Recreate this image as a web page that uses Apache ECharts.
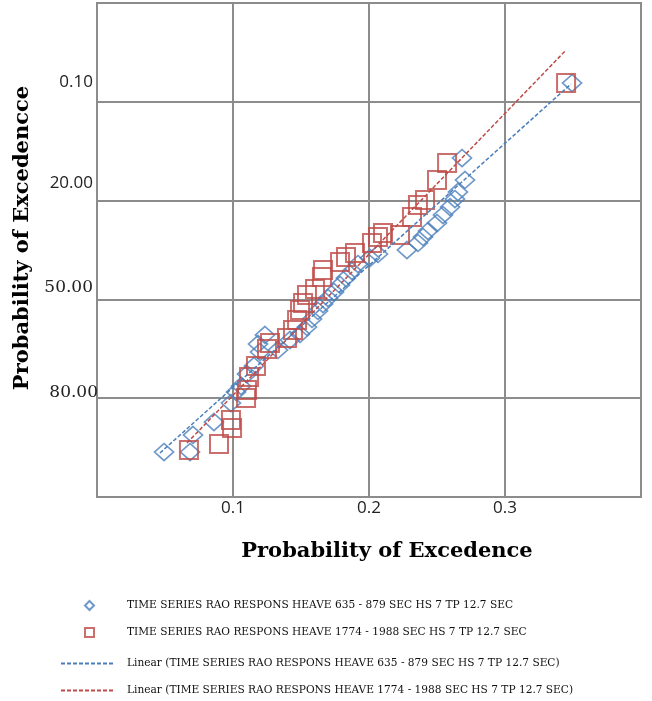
<!DOCTYPE html>
<html>
<head>
<meta charset="utf-8">
<script src="https://cdn.jsdelivr.net/npm/echarts@6/dist/echarts.min.js"></script>
<style>
  html, body { margin: 0; padding: 0; background: #fff; }
  #chart { width: 652px; height: 701px; }
</style>
</head>
<body>
<div id="chart"></div>
<script>
const xTickLabels = ['', '0.1', '0.2', '0.3', '']
const yTickLabels = ['', '0.10', '20.00', '50.00', '80.00', '']

const seriesNames = [
  'TIME SERIES RAO RESPONS HEAVE 635 - 879 SEC HS 7 TP 12.7 SEC',
  'TIME SERIES RAO RESPONS HEAVE 1774 - 1988 SEC HS 7 TP 12.7 SEC',
  'Linear (TIME SERIES RAO RESPONS HEAVE 635 - 879 SEC HS 7 TP 12.7 SEC)',
  'Linear (TIME SERIES RAO RESPONS HEAVE 1774 - 1988 SEC HS 7 TP 12.7 SEC)'
]

// heave 635 - 879 sec (blue diamonds)
const blueX = [0.0493, 0.0684, 0.0706, 0.0860, 0.0985, 0.1022, 0.1059, 0.1103, 0.1154, 0.1199,
  0.1184, 0.1235, 0.1331, 0.1419, 0.1493, 0.1544, 0.1581, 0.1625, 0.1662, 0.1699,
  0.1743, 0.1787, 0.1831, 0.1875, 0.1919, 0.2007, 0.2066, 0.2279, 0.2360, 0.2397,
  0.2434, 0.2500, 0.2544, 0.2596, 0.2632, 0.2654, 0.2706, 0.2684, 0.3493]
const blueY = [4.545, 4.545, 4.372, 4.241, 4.049, 3.937, 3.877, 3.755, 3.674, 3.532,
  3.451, 3.360, 3.512, 3.411, 3.350, 3.279, 3.198, 3.117, 3.047, 2.986,
  2.925, 2.854, 2.783, 2.713, 2.642, 2.581, 2.540, 2.500, 2.429, 2.368,
  2.308, 2.227, 2.146, 2.065, 1.984, 1.913, 1.791, 1.569, 0.810]

// heave 1774 - 1988 sec (red squares)
const redX = [0.0676, 0.0897, 0.0985, 0.0993, 0.1096, 0.1103, 0.1118, 0.1169, 0.1250, 0.1272,
  0.1397, 0.1441, 0.1471, 0.1493, 0.1515, 0.1544, 0.1603, 0.1654, 0.1662, 0.1787,
  0.1831, 0.1897, 0.2022, 0.2066, 0.2103, 0.2228, 0.2316, 0.2360, 0.2412, 0.2500,
  0.2574, 0.3449]
const redY = [4.524, 4.464, 4.221, 4.302, 3.998, 3.917, 3.785, 3.674, 3.502, 3.441,
  3.391, 3.310, 3.209, 3.107, 3.036, 2.955, 2.895, 2.773, 2.702, 2.621,
  2.571, 2.530, 2.429, 2.368, 2.328, 2.348, 2.166, 2.045, 1.994, 1.791,
  1.619, 0.810]

// linear trend line end points
const blueTrendX = [0.0463, 0.3485]
const blueTrendY = [4.555, 0.820]
const redTrendX = [0.0662, 0.3449]
const redTrendY = [4.453, 0.476]

const BLUE = '#4a7ebb'
const RED = '#be4b48'
const GRID = '#8c8c8c'

function zip(xs, ys) {
  return xs.map((x, i) => [x, ys[i]])
}

const legendText = {
  fontFamily: 'DejaVu Serif', fontSize: 10.6, color: '#111'
}

const chart = echarts.init(document.getElementById('chart'))

chart.setOption({
  animation: false,
  backgroundColor: '#fff',
  grid: {
    left: 97, top: 3, width: 544, height: 494,
    show: true, borderColor: GRID, borderWidth: 2
  },
  xAxis: {
    type: 'value',
    min: 0, max: 0.4, interval: 0.1,
    name: 'Probability of Excedence',
    nameLocation: 'middle',
    nameGap: 44,
    nameTextStyle: {
      fontFamily: 'DejaVu Serif', fontWeight: 'bold', fontSize: 21, color: '#000',
      padding: [0, 0, 0, 36]
    },
    axisLine: { show: true, lineStyle: { color: GRID, width: 2 } },
    axisTick: { show: false },
    axisLabel: {
      margin: 3,
      fontFamily: 'Open Sans', fontSize: 17, color: '#222',
      formatter: (v) => xTickLabels[Math.round(v * 10)]
    },
    splitLine: { show: true, lineStyle: { color: GRID, width: 2 } }
  },
  yAxis: {
    type: 'value',
    inverse: true,
    min: 0, max: 5, interval: 1,
    name: 'Probability of Excedencce',
    nameLocation: 'middle',
    nameGap: 58,
    nameTextStyle: {
      fontFamily: 'DejaVu Serif', fontWeight: 'bold', fontSize: 21, color: '#000',
      padding: [0, 0, 0, 24]
    },
    axisLine: { show: true, lineStyle: { color: GRID, width: 2 } },
    axisTick: { show: false },
    axisLabel: {
      margin: -1,
      formatter: (v) => {
        const i = Math.round(v)
        return yTickLabels[i] ? '{s' + i + '|' + yTickLabels[i] + '}' : ''
      },
      rich: {
        s1: { fontFamily: 'Open Sans', fontSize: 17, color: '#222', padding: [0, 5, 40, 0] },
        s2: { fontFamily: 'Open Sans', fontSize: 17, color: '#222', padding: [0, 5, 34, 0] },
        s3: { fontFamily: 'DejaVu Serif', fontSize: 17, color: '#222', padding: [0, 5, 24, 0] },
        s4: { fontFamily: 'DejaVu Serif', fontSize: 17, color: '#222', padding: [0, 0, 12, 0] }
      }
    },
    splitLine: { show: true, lineStyle: { color: GRID, width: 2 } }
  },
  legend: [
    {
      orient: 'vertical',
      left: 79, top: 595,
      itemWidth: 9, itemHeight: 9, itemGap: 16,
      textStyle: Object.assign({ padding: [0, 0, 0, 28] }, legendText),
      data: [
        { name: seriesNames[0], icon: 'diamond' },
        { name: seriesNames[1], icon: 'rect' }
      ]
    },
    {
      orient: 'vertical',
      left: 55, top: 653,
      itemWidth: 53, itemHeight: 9, itemGap: 16,
      textStyle: Object.assign({ padding: [0, 0, 0, 8] }, legendText),
      data: [seriesNames[2], seriesNames[3]]
    }
  ],
  series: [
    {
      name: seriesNames[0],
      type: 'scatter',
      symbol: 'diamond',
      symbolSize: [19, 17],
      itemStyle: { color: 'rgba(255,255,255,0)', borderColor: BLUE, borderWidth: 1.7 },
      z: 2,
      data: zip(blueX, blueY)
    },
    {
      name: seriesNames[1],
      type: 'scatter',
      symbol: 'rect',
      symbolSize: [18, 18],
      itemStyle: { color: 'rgba(255,255,255,0)', borderColor: RED, borderWidth: 2 },
      z: 3,
      data: zip(redX, redY)
    },
    {
      name: seriesNames[2],
      type: 'line',
      symbol: 'none',
      lineStyle: { color: BLUE, width: 1.5, type: [4, 2] },
      itemStyle: { color: BLUE, opacity: 0 },
      z: 4,
      data: zip(blueTrendX, blueTrendY)
    },
    {
      name: seriesNames[3],
      type: 'line',
      symbol: 'none',
      lineStyle: { color: RED, width: 1.5, type: [4, 2] },
      itemStyle: { color: RED, opacity: 0 },
      z: 4,
      data: zip(redTrendX, redTrendY)
    }
  ]
})
</script>
</body>
</html>
